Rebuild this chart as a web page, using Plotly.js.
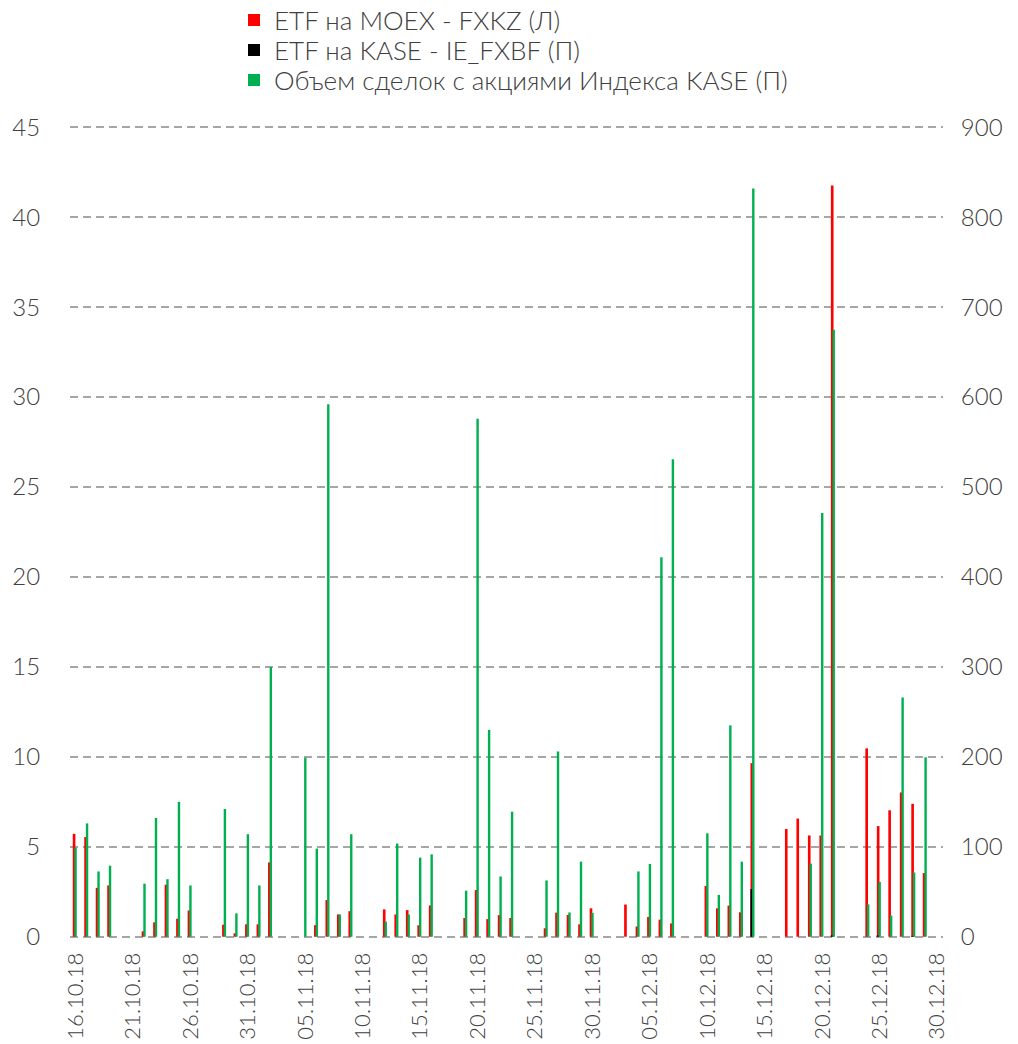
<!DOCTYPE html>
<html>
<head>
<meta charset="utf-8">
<script src="https://cdn.plot.ly/plotly-3.0.1.min.js"></script>
<style>
  html, body { margin: 0; padding: 0; background: #fff; }
  #chart { width: 1018px; height: 1044px; }
</style>
</head>
<body>
<div id="chart"></div>
<script>
// Trading days
var dates = [
  "2018-10-16","2018-10-17","2018-10-18","2018-10-19","2018-10-22","2018-10-23","2018-10-24","2018-10-25","2018-10-26","2018-10-29","2018-10-30","2018-10-31",
  "2018-11-01","2018-11-02","2018-11-05","2018-11-06","2018-11-07","2018-11-08","2018-11-09","2018-11-12","2018-11-13","2018-11-14","2018-11-15","2018-11-16",
  "2018-11-19","2018-11-20","2018-11-21","2018-11-22","2018-11-23","2018-11-26","2018-11-27","2018-11-28","2018-11-29","2018-11-30",
  "2018-12-03","2018-12-04","2018-12-05","2018-12-06","2018-12-07","2018-12-10","2018-12-11","2018-12-12","2018-12-13","2018-12-14",
  "2018-12-17","2018-12-18","2018-12-19","2018-12-20","2018-12-21","2018-12-24","2018-12-25","2018-12-26","2018-12-27","2018-12-28","2018-12-29"
];

// ETF на MOEX - FXKZ (left axis)
var fxkz = [
  5.72,5.54,2.72,2.85,0.3,0.8,2.89,1.0,1.46,0.67,0.19,0.69,
  0.69,4.13,null,0.64,2.04,1.24,1.42,1.52,1.24,1.48,0.64,1.74,
  1.04,2.6,0.98,1.2,1.04,0.47,1.34,1.21,0.69,1.58,
  1.79,0.57,1.1,0.95,0.74,2.82,1.58,1.73,1.36,9.65,
  5.99,6.57,5.63,5.63,41.76,10.47,6.15,7.03,8.02,7.39,3.54
];

// ETF на KASE - IE_FXBF (right axis)
var iefxbf = [
  null,null,null,null,null,null,null,null,null,null,null,null,
  null,null,null,null,null,null,null,null,null,null,null,null,
  null,null,null,null,null,null,null,null,null,null,
  null,null,null,null,null,null,null,null,null,53,
  null,null,null,null,1.5,null,1.5,null,null,1,null
];

// Объем сделок с акциями Индекса KASE (right axis)
var kaseVolume = [
  99,126,72.6,79,59,132,64,150,57,142,26,114,
  57,300,199,98,592,24.8,114,16.8,103.6,24.8,88,91.6,
  51.2,576,230,67,139,62.6,206,27,83.5,26.5,
  null,72.6,81,422,531,115,46.5,235,83.5,832,
  null,null,81.3,471,675,36,61,23.6,266,71.4,199.5
];

var seriesNames = ["ETF на MOEX - FXKZ (Л)", "ETF на KASE - IE_FXBF (П)", "Объем сделок с акциями Индекса KASE (П)"];

var DAY = 86400000;
var FONT = "Lato, 'Open Sans', sans-serif";
var TXT = "#404040";
var H = 1044;

var traces = [
  {
    type: "bar", name: seriesNames[0], x: dates, y: fxkz, yaxis: "y", legend: "legend",
    marker: { color: "#ff0000" }, offset: -0.26 * DAY, width: 0.23 * DAY
  },
  {
    type: "bar", name: seriesNames[1], x: dates, y: iefxbf, yaxis: "y2", legend: "legend2",
    marker: { color: "#000000" }, offset: -0.27 * DAY, width: 0.2 * DAY
  },
  {
    type: "bar", name: seriesNames[2], x: dates, y: kaseVolume, yaxis: "y2", legend: "legend3",
    marker: { color: "#00b050" }, offset: -0.12 * DAY, width: 0.21 * DAY
  }
];

function legendAt(rowY) {
  return {
    orientation: "v", xref: "container", yref: "container",
    x: 234 / 1018, y: 1 - rowY / H, xanchor: "left", yanchor: "middle",
    font: { family: FONT, size: 26, color: TXT, weight: 300 },
    bgcolor: "rgba(0,0,0,0)", borderwidth: 0
  };
}

var layout = {
  width: 1018, height: H,
  margin: { l: 70, r: 75, t: 126, b: 106, autoexpand: false },
  paper_bgcolor: "#ffffff", plot_bgcolor: "#ffffff",
  font: { family: FONT, size: 24, color: TXT, weight: 300 },
  barmode: "overlay",
  showlegend: true,
  legend: legendAt(20),
  legend2: legendAt(50),
  legend3: legendAt(80),
  xaxis: {
    type: "date", automargin: false,
    range: ["2018-10-15 12:00", "2018-12-30 12:00"],
    tick0: "2018-10-16", dtick: 5 * DAY, tickformat: "%d.%m.%y",
    tickangle: -90, showgrid: false, zeroline: false, showline: false,
    ticks: "outside", ticklen: 5, tickcolor: "rgba(0,0,0,0)",
    tickfont: { family: FONT, size: 22, color: TXT, weight: 300 },
    fixedrange: true
  },
  yaxis: {
    range: [-0.07, 45.07], dtick: 5, tick0: 0, automargin: false,
    showgrid: true, gridcolor: "#a6a6a6", gridwidth: 2, griddash: "8px,5px",
    zeroline: false, showline: false,
    ticks: "outside", ticklen: 24, tickcolor: "rgba(0,0,0,0)",
    tickfont: { family: FONT, size: 24, color: TXT, weight: 300 },
    fixedrange: true
  },
  yaxis2: {
    range: [-1.4, 901.4], dtick: 100, tick0: 0, automargin: false,
    overlaying: "y", side: "right",
    showgrid: false, zeroline: false, showline: false,
    ticks: "outside", ticklen: 12, tickcolor: "rgba(0,0,0,0)",
    tickfont: { family: FONT, size: 24, color: TXT, weight: 300 },
    fixedrange: true
  }
};

Plotly.newPlot("chart", traces, layout, { displayModeBar: false, staticPlot: true });
</script>
</body>
</html>
